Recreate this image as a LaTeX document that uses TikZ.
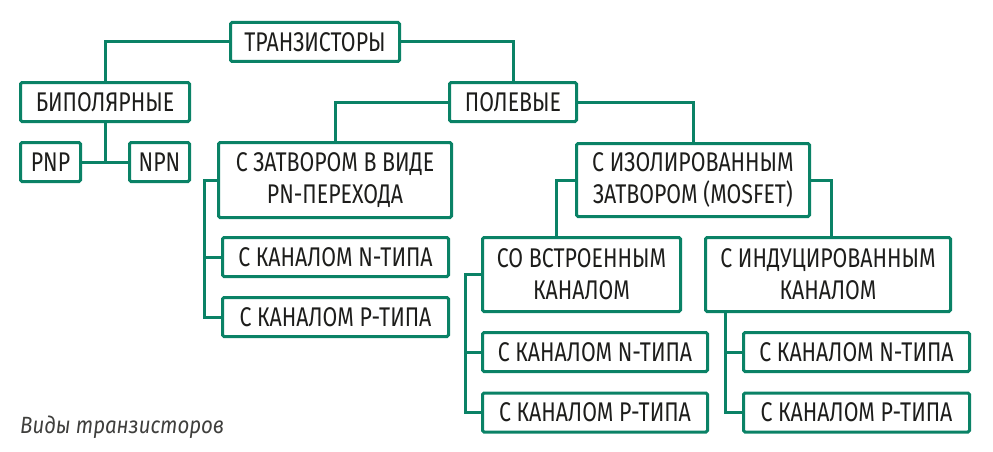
\documentclass[tikz,border=0pt]{standalone}
\usepackage{fontspec}
\setmainfont{Fira Sans}[FakeStretch=0.79]
\newfontfamily\capfont{Fira Sans}[FakeStretch=0.87]
\usetikzlibrary{calc}
\definecolor{teal1}{HTML}{0A8266}
\definecolor{ink}{HTML}{1D1D1B}
\begin{document}
\begin{tikzpicture}[x=1pt,y=-1pt,
  box/.style={draw=teal1,line width=3pt,rounded corners=1.5pt,inner sep=0pt,
    align=center,text=ink,font=\fontsize{27}{32}\selectfont},
  link/.style={draw=teal1,line width=3pt},
]
\useasboundingbox (0,0) rectangle (993,452);
\node[box,minimum width=169,minimum height=39] (T) at (315,42) {ТРАНЗИСТОРЫ};
\node[box,minimum width=169,minimum height=39] (B) at (105,102) {БИПОЛЯРНЫЕ};
\node[box,minimum width=60,minimum height=39] (PNP) at (50.5,162) {PNP};
\node[box,minimum width=60,minimum height=39] (NPN) at (159.5,162) {NPN};
\node[box,minimum width=127,minimum height=39] (P) at (513,102) {ПОЛЕВЫЕ};
\node[box,minimum width=233,minimum height=75] (Z) at (335,180) {С ЗАТВОРОМ В ВИДЕ\\PN-ПЕРЕХОДА};
\node[box,minimum width=226,minimum height=39] (ZN) at (335.5,257) {С КАНАЛОМ N-ТИПА};
\node[box,minimum width=226,minimum height=39] (ZP) at (335.5,317) {С КАНАЛОМ P-ТИПА};
\node[box,minimum width=233,minimum height=73] (I) at (693,180) {С ИЗОЛИРОВАННЫМ\\ЗАТВОРОМ (MOSFET)};
\node[box,minimum width=198,minimum height=74] (V) at (581.5,274.5) {СО ВСТРОЕННЫМ\\КАНАЛОМ};
\node[box,minimum width=245,minimum height=74] (D) at (828,274.5) {С ИНДУЦИРОВАННЫМ\\КАНАЛОМ};
\node[box,minimum width=225,minimum height=39] (VN) at (595,352) {С КАНАЛОМ N-ТИПА};
\node[box,minimum width=225,minimum height=39] (VP) at (595,412.5) {С КАНАЛОМ P-ТИПА};
\node[box,minimum width=226,minimum height=39] (DN) at (856.5,352) {С КАНАЛОМ N-ТИПА};
\node[box,minimum width=226,minimum height=39] (DP) at (856.5,412.5) {С КАНАЛОМ P-ТИПА};
\node[anchor=base west,inner sep=0pt,text=ink!85,font=\capfont\fontsize{23.5}{28}\selectfont\itshape] (cap) at (20,433) {Виды транзисторов};
\coordinate (zx) at (204,0);
\coordinate (vx) at (556,0);
\coordinate (vt) at (465.5,0);
\coordinate (dx) at (831,0);
\coordinate (dt) at (725,0);
\draw[link] (T.west) -| (B.north);
\draw[link] (T.east) -| (P.north);
\draw[link] (B.south) -- (B.south |- PNP.east);
\draw[link] (PNP.east) -- (NPN.west);
\draw[link] (P.west) -| (Z.north);
\draw[link] (P.east) -| (I.north);
\draw[link] (Z.west) -| (zx |- Z.west) |- (ZP.west);
\draw[link] (zx |- ZN.west) -- (ZN.west);
\draw[link] (I.west) -| (vx |- V.north);
\draw[link] (I.east) -| (dx |- D.north);
\draw[link] (V.west) -| (vt |- V.west) |- (VP.west);
\draw[link] (vt |- VN.west) -- (VN.west);
\draw[link] (dt |- D.south) |- (DP.west);
\draw[link] (dt |- DN.west) -- (DN.west);
\end{tikzpicture}
\end{document}
